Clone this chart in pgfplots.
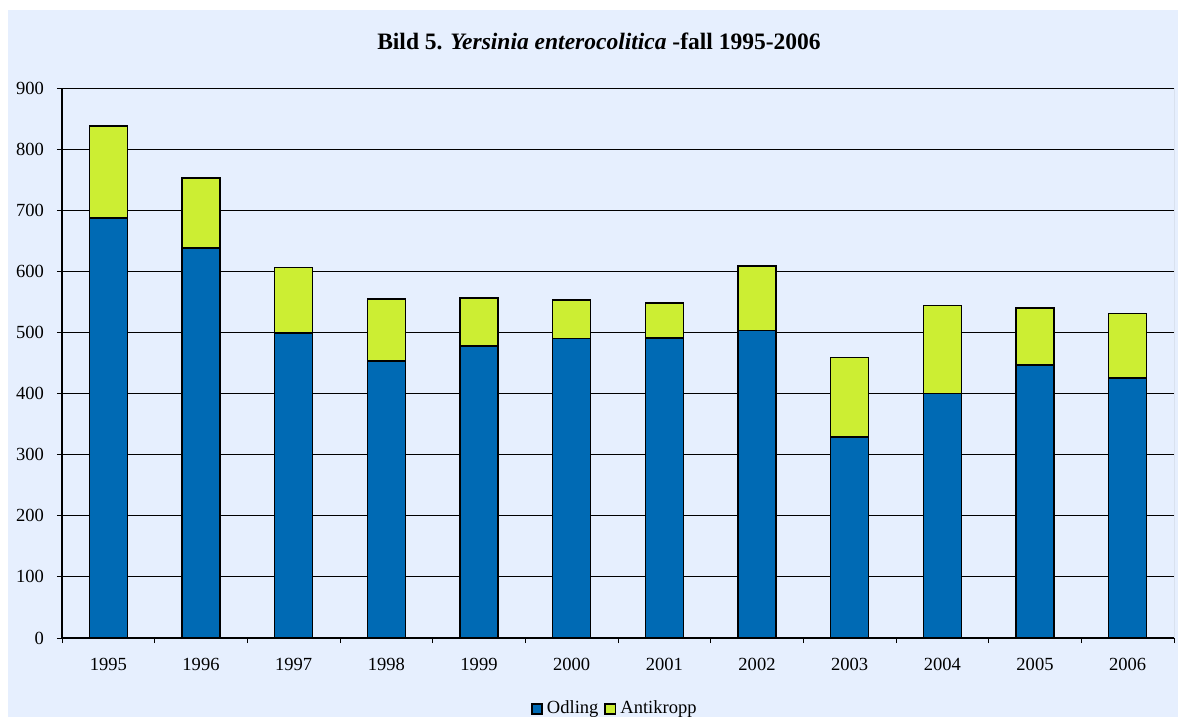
\documentclass[border=0pt]{standalone}
\usepackage{fontspec}
\setmainfont{Liberation Serif}
\usepackage{pgfplots}
\pgfplotsset{compat=1.18}
\usepackage{pgfplotstable}

\definecolor{panelbg}{RGB}{230,239,254}
\definecolor{odling}{RGB}{0,106,180}
\definecolor{antikropp}{RGB}{204,238,51}

% Yersinia enterocolitica cases per year: culture (Odling) and antibody (Antikropp)
\pgfplotstableread{
x year odling antikropp
0  1995 687 151
1  1996 638 115
2  1997 499 107
3  1998 453 102
4  1999 478 78
5  2000 490 63
6  2001 491 57
7  2002 503 106
8  2003 329 130
9  2004 400 144
10 2005 447 93
11 2006 425 106
}\cases

\begin{document}
\begin{tikzpicture}
\useasboundingbox (0,0) rectangle (589bp,358.5bp);
\fill[white] (0,0) rectangle (589bp,358.5bp);
\fill[panelbg] (4bp,0) rectangle (589bp,353.5bp);

\node[font=\fontsize{11.8}{14}\selectfont\bfseries] at (299.5bp,338bp)
  {Bild 5. \textit{Yersinia enterocolitica} -fall 1995-2006};

\begin{axis}[
  at={(31bp,39.5bp)}, anchor=south west,
  scale only axis,
  width=556bp, height=275bp,
  ybar stacked,
  bar width=19bp,
  xmin=-0.5, xmax=11.5,
  ymin=0, ymax=900,
  ytick={0,100,...,900},
  xtick={0,...,11},
  xticklabels={1995,1996,1997,1998,1999,2000,2001,2002,2003,2004,2005,2006},
  minor xtick={-0.5,0.5,...,11.5},
  major x tick style={draw=none},
  tick align=outside,
  major tick length=2.5bp,
  minor tick length=2.5bp,
  tick style={black, line width=0.5bp},
  axis x line*=bottom,
  axis y line*=left,
  axis line style={black, line width=0.6bp},
  ymajorgrids,
  grid style={black, line width=0.5bp},
  tick label style={font=\fontsize{9.3}{11}\selectfont},
  /pgf/number format/assume math mode=true,
  yticklabel style={xshift=-3bp},
  xticklabel style={yshift=-4bp},
  legend columns=2,
  legend style={at={([yshift=-35.5bp]axis description cs:0.498,0)}, anchor=center,
    draw=none, fill=none, font=\fontsize{9.3}{11}\selectfont,
    /tikz/every even column/.append style={column sep=1bp}},
  legend image code/.code={\draw[#1] (0bp,-2.6bp) rectangle (5.2bp,2.6bp);},
  legend cell align=left,
]
\addplot[fill=odling, draw=black, line width=0.8bp] table[x=x, y=odling] {\cases};
\addlegendentry{Odling}
\addplot[fill=antikropp, draw=black, line width=0.8bp] table[x=x, y=antikropp] {\cases};
\addlegendentry{Antikropp}
\draw[gray, line width=0.5bp] (rel axis cs:1,0) -- (rel axis cs:1,1);
\end{axis}
\end{tikzpicture}
\end{document}
